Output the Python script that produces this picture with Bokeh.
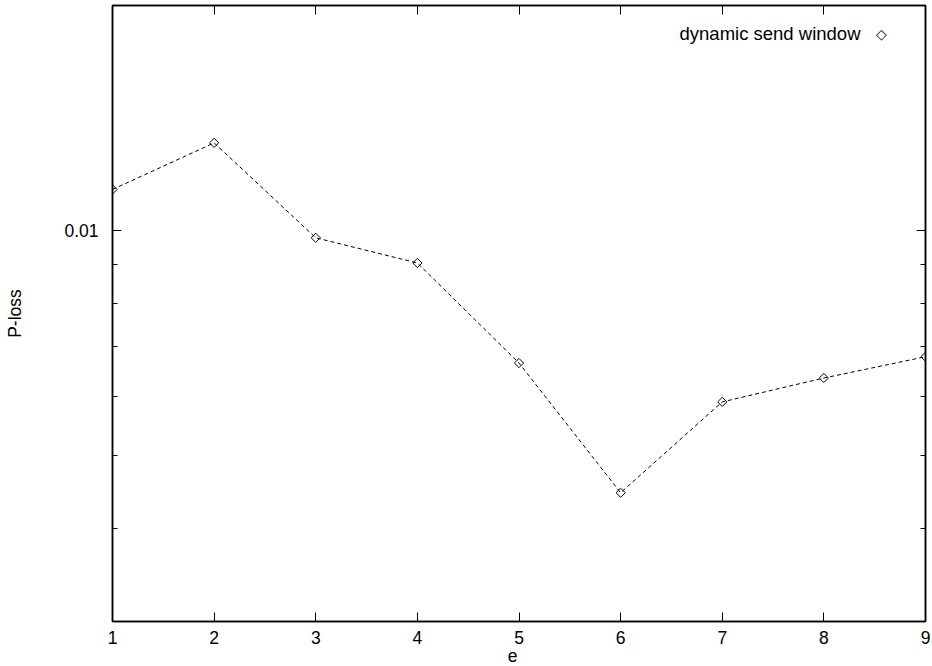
import math
from bokeh.plotting import figure
from bokeh.models import (Range1d, FixedTicker, LinearAxis, LogAxis, Label,
                          PrintfTickFormatter, CustomLabelingPolicy)
from bokeh.embed import file_html
from bokeh.resources import INLINE

# data
e_values = [1, 2, 3, 4, 5, 6, 7, 8, 9]
p_loss = [0.01135, 0.01310, 0.00978, 0.00905, 0.00665, 0.00446, 0.00590, 0.00635, 0.00678]
series_name = "dynamic send window"
x_label = "e"
y_label = "P-loss"
x_ticks = [1, 2, 3, 4, 5, 6, 7, 8, 9]
y_major_ticks = [0.01]
y_minor_ticks = [0.003, 0.004, 0.005, 0.006, 0.007, 0.008, 0.009, 0.02]

FONT = "Liberation Sans"
FS = "17.5px"

p = figure(width=932, height=666, output_backend="svg", toolbar_location=None,
           x_range=Range1d(1, 9), y_range=Range1d(0.003, 0.02), y_axis_type="log",
           min_border_left=112, min_border_right=7, min_border_top=5,
           min_border_bottom=45)
p.background_fill_color = "white"
p.border_fill_color = "white"
p.outline_line_color = "black"
p.outline_line_width = 1.5
p.xgrid.visible = False
p.ygrid.visible = False

p.line(e_values, p_loss, line_color="black", line_width=1, line_dash="4 3")
r = p.scatter(e_values, p_loss, marker="square", angle=math.pi / 4, size=6.5,
              fill_color=None, line_color="black", line_width=1)

no_labels = CustomLabelingPolicy(code="return []")

def style(ax, ticker, labels=True):
    ax.ticker = ticker
    ax.axis_line_color = "black"
    ax.axis_line_width = 1.5
    ax.major_tick_in = 9
    ax.major_tick_out = 0
    ax.minor_tick_in = 5
    ax.minor_tick_out = 0
    ax.major_tick_line_color = "black"
    ax.minor_tick_line_color = "black"
    ax.major_label_text_font = FONT
    ax.major_label_text_color = "black"
    if labels:
        ax.major_label_text_font_size = FS
    else:
        ax.major_label_text_font_size = "1px"
        ax.major_label_standoff = 0
        ax.major_label_policy = no_labels

xa = p.xaxis[0]
style(xa, FixedTicker(ticks=x_ticks, minor_ticks=[]))
xa.major_label_standoff = 9

ya = p.yaxis[0]
style(ya, FixedTicker(ticks=y_major_ticks, minor_ticks=y_minor_ticks))
ya.formatter = PrintfTickFormatter(format="%.2f")
ya.major_label_standoff = 14
ya.axis_label = y_label
ya.axis_label_text_font = FONT
ya.axis_label_text_font_size = FS
ya.axis_label_text_font_style = "normal"
ya.axis_label_text_color = "black"
ya.axis_label_standoff = 36

top = LinearAxis()
style(top, FixedTicker(ticks=x_ticks, minor_ticks=[]), labels=False)
p.add_layout(top, "above")
right = LogAxis()
style(right, FixedTicker(ticks=y_major_ticks, minor_ticks=y_minor_ticks), labels=False)
p.add_layout(right, "right")

# x axis title below the tick labels
p.add_layout(Label(x=400, y=4, x_units="screen", y_units="screen",
                   text=x_label, text_align="center", text_baseline="middle",
                   text_font=FONT, text_font_size=FS, text_color="black"), "below")

# legend: text on the left, sample on the right (gnuplot style)
p.add_layout(Label(x=748, y=588, x_units="screen", y_units="screen",
                   text=series_name, text_align="right", text_baseline="middle",
                   text_font=FONT, text_font_size="18.5px", text_color="black"))
p.add_layout(Label(x=769, y=588, x_units="screen", y_units="screen",
                   text="\u25c7", text_align="center", text_baseline="middle",
                   text_font="DejaVu Sans", text_font_size="14px", text_color="black"))

open("out.html", "w").write(file_html(p, INLINE))
